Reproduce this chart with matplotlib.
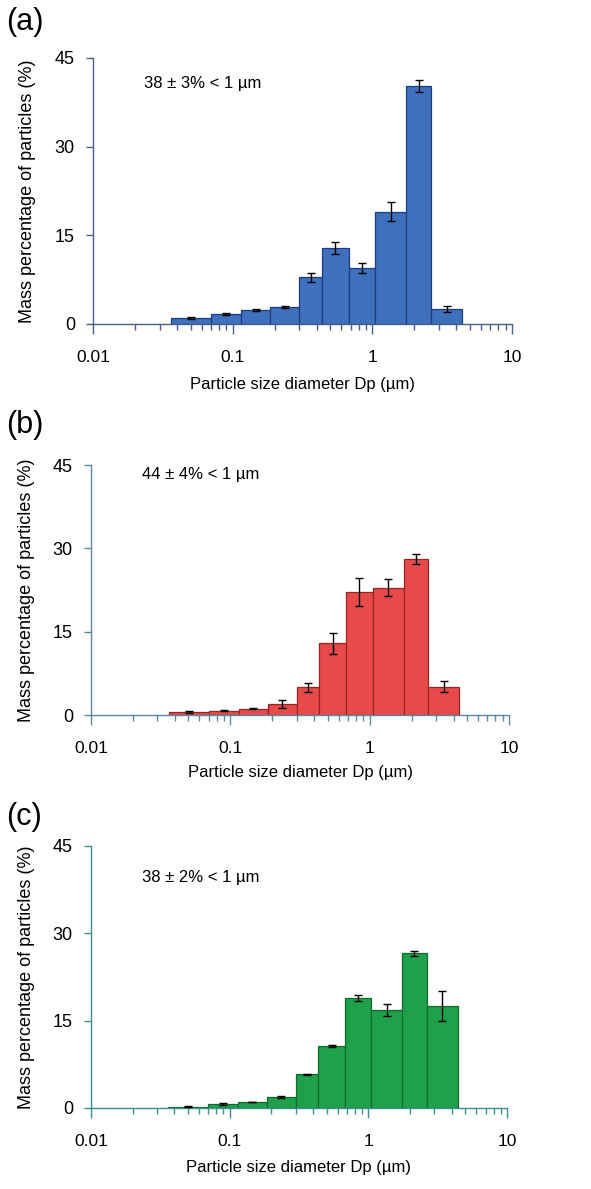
import numpy as np
import matplotlib
matplotlib.use("Agg")
import matplotlib.pyplot as plt
from matplotlib.ticker import LogLocator, FixedLocator, FixedFormatter

plt.rcParams['font.family'] = ['Liberation Sans', 'DejaVu Sans']

# bin edges of the size classes (um)
edges = [0.036, 0.07, 0.115, 0.185, 0.3, 0.435, 0.68, 1.05, 1.75, 2.63, 4.4]

# mass percentage per bin and error bars
a_vals = [1.0, 1.7, 2.4, 2.9, 7.9, 12.9, 9.5, 19.0, 40.2, 2.5]
a_err = [0.15, 0.2, 0.15, 0.2, 0.8, 1.0, 0.8, 1.6, 1.0, 0.5]
b_vals = [0.55, 0.8, 1.15, 2.0, 5.0, 12.9, 22.2, 22.9, 28.1, 5.1]
b_err = [0.1, 0.1, 0.1, 0.75, 0.8, 1.9, 2.5, 1.5, 0.9, 1.0]
c_vals = [0.25, 0.7, 1.0, 1.95, 5.8, 10.7, 18.9, 16.8, 26.6, 17.5]
c_err = [0.05, 0.1, 0.0, 0.15, 0.05, 0.15, 0.55, 1.0, 0.45, 2.6]

panel_labels = ['(a)', '(b)', '(c)']
notes = ['38 \u00b1 3% < 1 \u00b5m', '44 \u00b1 4% < 1 \u00b5m', '38 \u00b1 2% < 1 \u00b5m']
y_ticks = [0, 15, 30, 45]
x_ticks = [0.01, 0.1, 1, 10]
x_ticklabels = ['0.01', '0.1', '1', '10']

W, H = 591, 1189
fig = plt.figure(figsize=(W / 100, H / 100), dpi=100)

# axes boxes in pixels: left, right, top(45), bottom(0)
boxes = [(93, 512, 58, 324), (91, 509, 465, 715), (91, 507, 846, 1108)]
label_y = [22, 425, 817]
note_y = [0.906, 0.964, 0.879]
face = ['#3e70be', '#e84a4a', '#1fa04a']
edge = ['#1d3c7c', '#9a2424', '#0e6a2e']
spine_col = ['#4a5f86', '#5a8aa0', '#3f8f8f']

series = [(a_vals, a_err), (b_vals, b_err), (c_vals, c_err)]
e = np.array(edges)
left = e[:-1]
width = np.diff(e)
centers = np.sqrt(e[:-1] * e[1:])

for i, (vals, err) in enumerate(series):
    l, r, t, b = boxes[i]
    ax = fig.add_axes([l / W, 1 - b / H, (r - l) / W, (b - t) / H])
    ax.bar(left, vals, width=width, align='edge', color=face[i],
           edgecolor=edge[i], linewidth=0.9, zorder=2)
    ax.errorbar(centers, vals, yerr=err, fmt='none', ecolor='black',
                elinewidth=1.0, capsize=3, capthick=1.0, zorder=3)
    ax.set_xscale('log')
    ax.set_xlim(0.01, 10)
    ax.set_ylim(0, 45)
    ax.xaxis.set_major_locator(FixedLocator(x_ticks))
    ax.xaxis.set_major_formatter(FixedFormatter(x_ticklabels))
    ax.xaxis.set_minor_locator(LogLocator(base=10, subs=np.arange(2, 10)))
    ax.set_yticks(y_ticks)
    for s in ['top', 'right']:
        ax.spines[s].set_visible(False)
    for s in ['left', 'bottom']:
        ax.spines[s].set_color(spine_col[i])
        ax.spines[s].set_linewidth(1.0)
    ax.tick_params(axis='x', which='major', direction='out', length=7,
                   width=1, colors=spine_col[i], labelcolor='black',
                   labelsize=12.5, pad=12)
    ax.tick_params(axis='x', which='minor', direction='out', length=4,
                   width=1, colors=spine_col[i])
    ax.tick_params(axis='y', direction='out', length=5, width=1,
                   colors=spine_col[i], labelcolor='black', labelsize=13, pad=8)
    ax.set_xlabel('Particle size diameter Dp (\u00b5m)', fontsize=12)
    ax.set_ylabel('Mass percentage of particles (%)', fontsize=13)
    ax.xaxis.set_label_coords(0.5, -0.2)
    ax.xaxis.label.set_va('top')
    ax.yaxis.set_label_coords(-0.135, 0.5)
    ax.text(0.122, note_y[i], notes[i], transform=ax.transAxes,
            fontsize=12, ha='left', va='center')
    fig.text(6 / W, 1 - label_y[i] / H, panel_labels[i], fontsize=22,
             ha='left', va='center')

fig.savefig('out.png', dpi=100)
